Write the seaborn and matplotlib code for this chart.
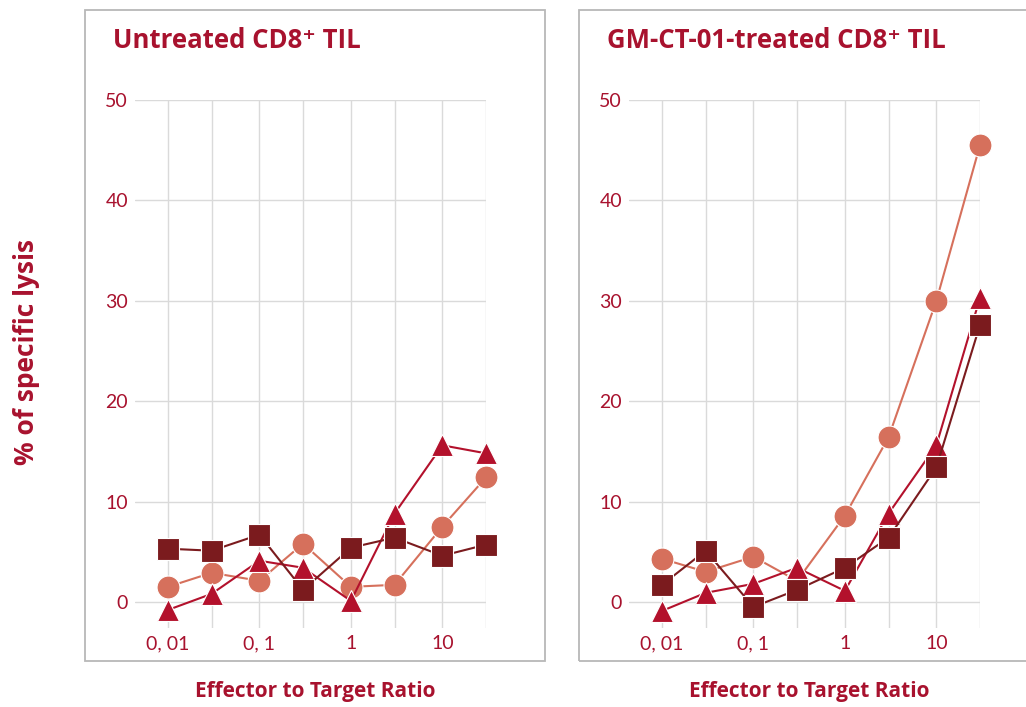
import numpy as np
import pandas as pd
import seaborn as sns
import matplotlib.pyplot as plt
from matplotlib.patches import Rectangle
from matplotlib.ticker import FixedLocator, FixedFormatter, NullLocator

# effector : target ratios
ratios = [0.01, 0.03, 0.1, 0.3, 1, 3, 10, 30]
tick_labels = ["0, 01", "", "0, 1", "", "1", "", "10", ""]

# untreated CD8+ TIL
untreated_square = [5.3, 5.1, 6.7, 1.2, 5.4, 6.4, 4.6, 5.7]
untreated_triangle = [-0.8, 0.8, 4.1, 3.4, 0.1, 8.8, 15.6, 14.8]
untreated_circle = [1.5, 2.9, 2.1, 5.8, 1.5, 1.7, 7.5, 12.4]

# GM-CT-01-treated CD8+ TIL
treated_square = [1.7, 5.1, -0.5, 1.2, 3.4, 6.4, 13.4, 27.6]
treated_triangle = [-0.9, 0.9, 1.8, 3.4, 1.1, 8.8, 15.6, 30.3]
treated_circle = [4.3, 3.0, 4.5, 2.1, 8.6, 16.4, 30.0, 45.5]

titles = ["Untreated CD8\u207a TIL", "GM-CT-01-treated CD8\u207a TIL"]

red = "#a8122e"
colors = {"circle": "#d6705c", "triangle": "#b3112c", "square": "#7b1b1e"}
markers = {"circle": "o", "triangle": "^", "square": "s"}

sns.set_theme(style="white")
plt.rcParams["font.family"] = ["Lato", "DejaVu Sans"]
label_font = ["Open Sans", "DejaVu Sans"]


def make_df(sq, tri, circ):
    rows = []
    for name, vals in [("circle", circ), ("triangle", tri), ("square", sq)]:
        for r, v in zip(ratios, vals):
            rows.append({"ratio": r, "lysis": v, "series": name})
    return pd.DataFrame(rows)


panels = [make_df(untreated_square, untreated_triangle, untreated_circle),
          make_df(treated_square, treated_triangle, treated_circle)]

W, H = 1026, 707
fig = plt.figure(figsize=(W / 100, H / 100), dpi=100)

ax_left = [135, 629]
box_left = [85, 579]
for i, df in enumerate(panels):
    x0 = ax_left[i]
    ax = fig.add_axes([x0 / W, 1 - 628 / H, 351 / W, 528 / H])
    # panel box
    fig.patches.append(Rectangle((box_left[i] / W, 1 - 661 / H), 460 / W, 651 / H,
                                 transform=fig.transFigure, fill=False,
                                 edgecolor="#b8b8b8", linewidth=1.3, zorder=0))
    sns.lineplot(data=df, x="ratio", y="lysis", hue="series", style="series",
                 hue_order=["circle", "triangle", "square"],
                 palette=colors, markers=markers, dashes=False,
                 markersize=16.5, markeredgecolor="white", markeredgewidth=0.8,
                 linewidth=1.5, estimator=None, sort=False, legend=False,
                 clip_on=False, ax=ax)
    ax.set_xscale("log")
    ax.set_xlim(0.00436, 30)
    ax.set_ylim(-2.6, 50)
    ax.xaxis.set_major_locator(FixedLocator(ratios))
    ax.xaxis.set_major_formatter(FixedFormatter(tick_labels))
    ax.xaxis.set_minor_locator(NullLocator())
    ax.set_yticks([0, 10, 20, 30, 40, 50])
    ax.grid(True, color="#dadada", linewidth=1)
    for s in ax.spines.values():
        s.set_visible(False)
    ax.tick_params(length=0, labelsize=14, labelcolor=red)
    ax.tick_params(axis="y", pad=5)
    ax.tick_params(axis="x", pad=5)
    ax.set_xlabel("")
    ax.set_ylabel("")
    fig.text((box_left[i] + 28) / W, 1 - 41 / H, titles[i], fontsize=18.5,
             fontweight="bold", color=red, va="center", ha="left", family=label_font)
    fig.text((x0 + 180) / W, 1 - 692 / H, "Effector to Target Ratio",
             fontsize=15, fontweight="bold", color=red, ha="center", va="center",
             family=label_font)

fig.text(27 / W, 1 - 352 / H, "% of specific lysis", rotation=90, fontsize=19,
         fontweight="bold", color=red, ha="center", va="center", family=label_font)

fig.savefig("out.png", dpi=100)
